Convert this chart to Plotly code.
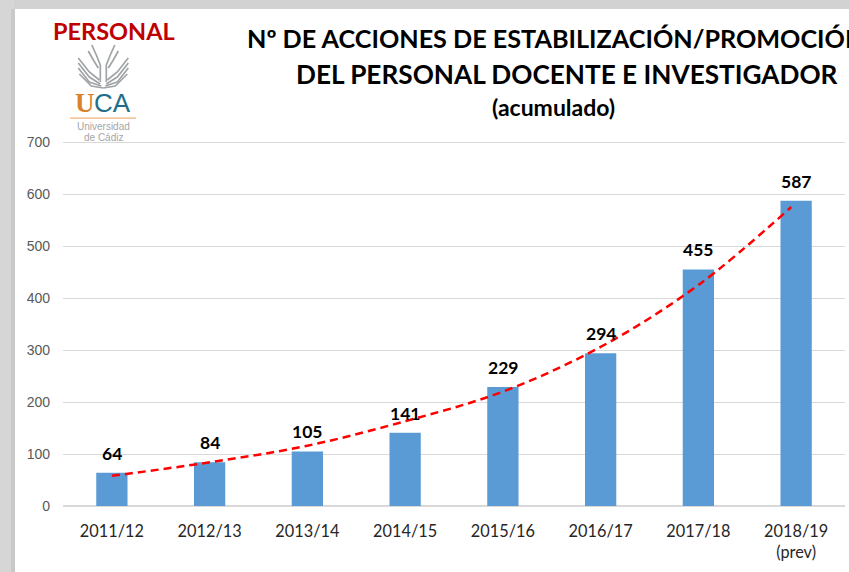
import plotly.graph_objects as go

categories = ["2011/12", "2012/13", "2013/14", "2014/15", "2015/16", "2016/17", "2017/18", "2018/19<br>(prev)"]
positions = [0, 1, 2, 3, 4, 5, 6, 7]
values = [64, 84, 105, 141, 229, 294, 455, 587]
trend_x = [0, 1, 2, 3, 4, 5, 6, 6.95]
trend_y = [58, 84, 116, 163, 220, 306, 425, 575]
y_ticks = [0, 100, 200, 300, 400, 500, 600, 700]

W, H = 849, 572
L, R, T, B = 63, 4, 141, 66
PW, PH = W - L - R, H - T - B


def px(x):
    return (x - L) / PW


def py(y):
    return 1 - (y - T) / PH


fig = go.Figure()
fig.add_bar(x=positions, y=values, width=0.32, marker=dict(color="#5B9BD5", line=dict(width=0)), showlegend=False)
fig.add_scatter(x=trend_x, y=trend_y, mode="lines", showlegend=False,
                line=dict(color="#FF0000", width=2.5, dash="8px,5px", shape="spline", smoothing=1))

ann = []
for p, v in zip(positions, values):
    ann.append(dict(x=p, y=v, xref="x", yref="y", text=f"<b>{v}</b>", showarrow=False, yanchor="bottom",
                    yshift=7, font=dict(family="Lato", size=17.5, color="#000000")))


def label(x, y, text, size, color="#000000", family="Lato", anchor="center"):
    ann.append(dict(x=px(x), y=py(y), xref="paper", yref="paper", text=text, showarrow=False,
                    xanchor=anchor, yanchor="middle", font=dict(family=family, size=size, color=color)))


label(113.5, 31, "<b>PERSONAL</b>", 23.5, "#C00000")
label(245, 38, "<b>Nº DE ACCIONES DE ESTABILIZACIÓN/PROMOCIÓN</b>", 25.2, anchor="left")
label(567, 74, "<b>DEL PERSONAL DOCENTE E INVESTIGADOR</b>", 26.2)
label(553, 107, "<b>(acumulado)</b>", 23)
label(85, 103, "<b>U</b>", 27, "#D9822B", "Liberation Serif")
label(112, 103, "CA", 26, "#1F6F8B", "Liberation Sans")
label(103, 126, "Universidad", 10, "#A6A6A6", "Liberation Sans")
label(103, 137, "de Cádiz", 10, "#A6A6A6", "Liberation Sans")

shapes = []


def rect(x0, y0, x1, y1, color):
    shapes.append(dict(type="rect", xref="paper", yref="paper", x0=px(x0), x1=px(x1), y0=py(y0), y1=py(y1),
                       fillcolor=color, line=dict(width=0), layer="below"))


rect(0, 0, W, 9, "#D2D2D2")
rect(0, 0, 14, H, "#D6D6D6")
rect(11, 9, 15, H, "#C9C9C9")
rect(70, 117.5, 136, 118.7, "#F0B27A")


def stroke(points, color="#A0A4A6", width=1.7):
    d = "M" + " L".join(f"{px(x):.5f},{py(y):.5f}" for x, y in points)
    shapes.append(dict(type="path", xref="paper", yref="paper", path=d, line=dict(color=color, width=width)))


# University emblem: mirrored feather strokes
CX = 103.3
for side in (-1, 1):
    for pts in (
        [(11.5, 45), (7, 55), (3, 65)],
        [(15, 51), (10, 60), (5, 68)],
        [(25, 58), (14, 72), (4, 80)],
        [(25, 63), (14, 77), (3, 84)],
        [(25, 68), (14, 82), (2, 86)],
        [(24, 74), (12, 86), (0, 88)],
        [(3, 65), (3, 82)],
    ):
        stroke([(CX + side * dx, y) for dx, y in pts])

fig.update_layout(
    width=W, height=H, margin=dict(l=L, r=R, t=T, b=B, pad=0),
    paper_bgcolor="#FFFFFF", plot_bgcolor="#FFFFFF", showlegend=False,
    annotations=ann, shapes=shapes,
    xaxis=dict(range=[-0.5, 7.5], tickmode="array", tickvals=positions, ticktext=categories,
               showgrid=False, zeroline=False, showline=False, ticks="", ticklabelstandoff=14,
               tickfont=dict(family="Lato", size=16.3, color="#262626")),
    yaxis=dict(range=[0, 702], tickmode="array", tickvals=y_ticks, showgrid=True, gridcolor="#D9D9D9",
               gridwidth=1, zeroline=True, zerolinecolor="#D9D9D9", showline=False, ticks="", ticklabelstandoff=12,
               tickfont=dict(family="Liberation Sans", size=14, color="#595959")),
)

fig.write_html("out.html", config=dict(displayModeBar=False),
               post_script="document.body.style.margin='0';document.body.style.overflow='hidden';")
